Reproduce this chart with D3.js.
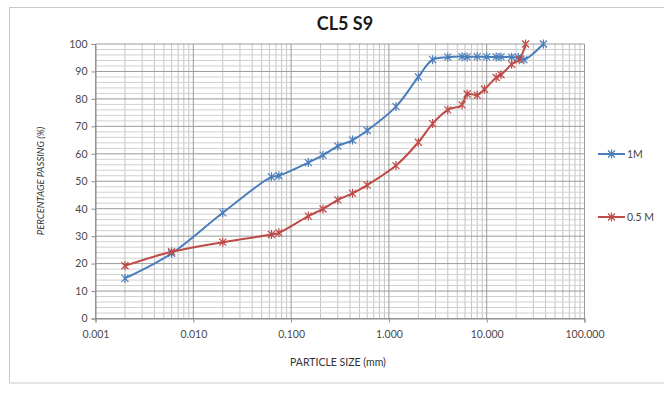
<!DOCTYPE html>
<html>
<head>
<meta charset="utf-8">
<script src="https://cdn.jsdelivr.net/npm/d3@7"></script>
<style>
  html, body { margin: 0; padding: 0; background: #fff; }
  svg { display: block; }
</style>
</head>
<body>
<svg id="chart" width="664" height="393"></svg>
<script>
// Particle size (mm) and percentage passing for each sample
const sizes1M  = [0.002, 0.006, 0.02, 0.063, 0.075, 0.15, 0.212, 0.3, 0.425, 0.6, 1.18, 2, 2.8, 4, 5.6, 6.3, 8, 10, 12.5, 14, 18, 21, 24, 38];
const pass1M   = [14.6, 23.7, 38.5, 51.6, 52, 56.8, 59.5, 62.8, 65, 68.5, 77.2, 88, 94.3, 95.2, 95.4, 95.3, 95.4, 95.3, 95.3, 95.3, 95.2, 95.1, 94.3, 100];
const sizes05M = [0.002, 0.006, 0.02, 0.063, 0.075, 0.15, 0.212, 0.3, 0.425, 0.6, 1.18, 2, 2.8, 4, 5.6, 6.3, 8, 9.5, 12.5, 14, 18, 21.5, 25];
const pass05M  = [19.2, 24.3, 27.8, 30.6, 31.2, 37.3, 39.9, 43.2, 45.6, 48.6, 55.7, 64.2, 71, 76, 77.8, 81.8, 81.4, 83.5, 87.8, 88.8, 92.6, 94.3, 100];

const seriesNames = ["1M", "0.5 M"];
const xTickValues = [0.001, 0.01, 0.1, 1, 10, 100];
const yTickValues = [0, 10, 20, 30, 40, 50, 60, 70, 80, 90, 100];

const svg = d3.select("#chart");
const font = "Lato, 'Open Sans', sans-serif";

const plot = { left: 95.5, right: 584.5, top: 44, bottom: 318.5 };

const x = d3.scaleLog().domain([0.001, 100]).range([plot.left, plot.right]);
const y = d3.scaleLinear().domain([0, 100]).range([plot.bottom, plot.top]);

// chart area frame
svg.append("rect")
  .attr("x", 9.5).attr("y", 7.5).attr("width", 700).attr("height", 375.5)
  .attr("fill", "#fff").attr("stroke", "#c8c8c8").attr("stroke-width", 1);

// minor grid
const minorX = [];
for (let e = -3; e < 2; e++) for (let m = 2; m <= 9; m++) minorX.push(m * Math.pow(10, e));
const minorY = d3.range(0, 101, 2).filter(v => v % 10 !== 0);

const grid = svg.append("g");
grid.selectAll(".mx").data(minorX).join("line")
  .attr("x1", d => x(d)).attr("x2", d => x(d))
  .attr("y1", plot.top).attr("y2", plot.bottom)
  .attr("stroke", "#c4c4c4").attr("stroke-width", 1);
grid.selectAll(".my").data(minorY).join("line")
  .attr("x1", plot.left).attr("x2", plot.right)
  .attr("y1", d => y(d)).attr("y2", d => y(d))
  .attr("stroke", "#d0d0d0").attr("stroke-width", 1);
// major grid
grid.selectAll(".Mx").data(xTickValues).join("line")
  .attr("x1", d => x(d)).attr("x2", d => x(d))
  .attr("y1", plot.top).attr("y2", plot.bottom)
  .attr("stroke", "#9a9a9a").attr("stroke-width", 1);
grid.selectAll(".My").data(yTickValues).join("line")
  .attr("x1", plot.left).attr("x2", plot.right)
  .attr("y1", d => y(d)).attr("y2", d => y(d))
  .attr("stroke", "#9a9a9a").attr("stroke-width", 1);

// axes
const xAxis = d3.axisBottom(x).tickValues(xTickValues).tickFormat(d3.format(".3f")).tickSize(4);
const yAxis = d3.axisLeft(y).tickValues(yTickValues).tickSize(4);

const gx = svg.append("g").attr("transform", `translate(0,${plot.bottom})`).call(xAxis);
const gy = svg.append("g").attr("transform", `translate(${plot.left},0)`).call(yAxis);
[gx, gy].forEach(g => {
  g.select(".domain").attr("stroke", "#8c8c8c");
  g.selectAll(".tick line").attr("stroke", "#8c8c8c");
  g.selectAll(".tick text").attr("fill", "#4a4a4a")
    .style("font-family", font).style("font-size", "10.5px");
});
gx.selectAll(".tick text").attr("dy", "1.2em");
gy.selectAll(".tick text").attr("x", -8);

// titles
svg.append("text").attr("x", 345).attr("y", 30).attr("text-anchor", "middle")
  .style("font-family", font).style("font-weight", "bold").style("font-size", "18px")
  .attr("fill", "#1a1a1a").text("CL5 S9");
svg.append("text").attr("x", 338).attr("y", 366).attr("text-anchor", "middle")
  .style("font-family", font).style("font-size", "10.5px").attr("fill", "#333")
  .text("PARTICLE SIZE (mm)");
svg.append("text")
  .attr("transform", "translate(44,181) rotate(-90)")
  .attr("text-anchor", "middle")
  .style("font-family", font).style("font-size", "9.5px").style("font-style", "italic")
  .attr("fill", "#333").text("PERCENTAGE PASSING (%)");

// series
const series = [
  { name: seriesNames[0], color: "#4a7ebb", pts: sizes1M.map((d, i) => [d, pass1M[i]]) },
  { name: seriesNames[1], color: "#be4b48", pts: sizes05M.map((d, i) => [d, pass05M[i]]) }
];

const line = d3.line().x(d => x(d[0])).y(d => y(d[1])).curve(d3.curveCatmullRom.alpha(0.5));

// asterisk marker
const star = "M-3.5,-3.5L3.5,3.5M-3.5,3.5L3.5,-3.5M0,-4.5L0,4.5";

series.forEach(s => {
  svg.append("path").datum(s.pts).attr("d", line)
    .attr("fill", "none").attr("stroke", s.color).attr("stroke-width", 2);
  svg.append("g").selectAll("path").data(s.pts).join("path")
    .attr("transform", d => `translate(${x(d[0])},${y(d[1])})`)
    .attr("d", star).attr("fill", "none").attr("stroke", s.color).attr("stroke-width", 1.2);
});

// legend
const legendY = [154, 217];
series.forEach((s, i) => {
  const g = svg.append("g").attr("transform", `translate(598,${legendY[i]})`);
  g.append("line").attr("x1", 0).attr("x2", 27).attr("stroke", s.color).attr("stroke-width", 2);
  g.append("path").attr("transform", "translate(13.5,0)").attr("d", star)
    .attr("fill", "none").attr("stroke", s.color).attr("stroke-width", 1.2);
  g.append("text").attr("x", 29).attr("y", 3.5)
    .style("font-family", font).style("font-size", "10.5px").attr("fill", "#444")
    .text(s.name);
});
</script>
</body>
</html>
